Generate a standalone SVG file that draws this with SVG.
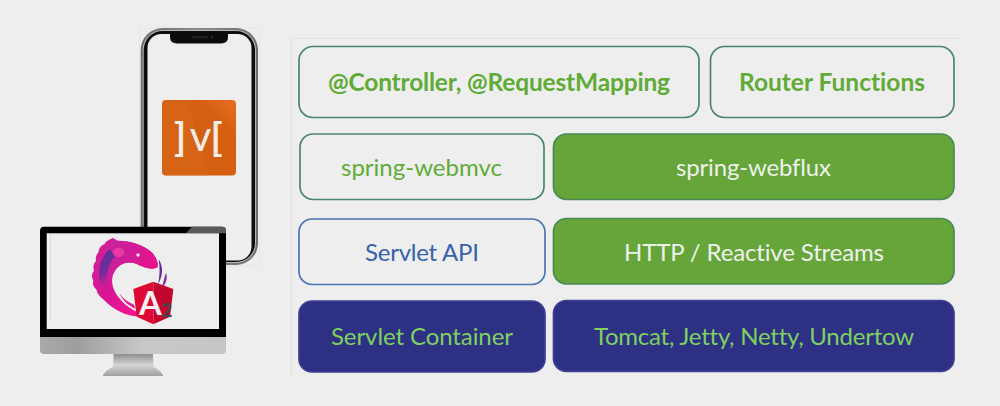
<svg xmlns="http://www.w3.org/2000/svg" width="1000" height="406" viewBox="0 0 1000 406">
<style>
.b{stroke-width:1.7}
.o{fill:#eeeeee;stroke:#4a8570}
.g{fill:#66a53a;stroke:#4a8a55}
.s{fill:#eeeeee;stroke:#4a76b4}
.n{fill:#2e3084;stroke:#3d3f92}
text{font-family:"Lato","Liberation Sans",sans-serif;text-anchor:middle;font-variant-ligatures:none}
.t{font-size:24px}
.h{font-size:24.500px;font-weight:700;fill:#60ab36}
.lg{fill:#60ab36}
.lw{fill:#eef2ea}
.lb{fill:#3762ab}
.ln{fill:#7ed15f}
.m{fill:#f2ece6}
</style>
<defs>
<linearGradient id="chin" x1="0" x2="1" y1="0" y2="0"><stop offset="0" stop-color="#a9a9ab"/><stop offset=".2" stop-color="#9e9ea0"/><stop offset=".55" stop-color="#c8c8ca"/><stop offset="1" stop-color="#c6c6c8"/></linearGradient>
<linearGradient id="stand" x1="0" x2="0" y1="0" y2="1"><stop offset="0" stop-color="#8f8f91"/><stop offset=".5" stop-color="#d4d4d4"/><stop offset="1" stop-color="#a0a0a0"/></linearGradient>
<linearGradient id="fish" gradientUnits="userSpaceOnUse" x1="225" y1="170" x2="340" y2="300"><stop offset="0" stop-color="#d21f96"/><stop offset=".5" stop-color="#d81695"/><stop offset="1" stop-color="#ee1590"/></linearGradient>
<linearGradient id="head" gradientUnits="userSpaceOnUse" x1="270" y1="110" x2="410" y2="170"><stop offset="0" stop-color="#c4249c"/><stop offset=".5" stop-color="#d51a95"/><stop offset="1" stop-color="#e8128c"/></linearGradient>
<linearGradient id="band" gradientUnits="userSpaceOnUse" x1="235" y1="130" x2="275" y2="230"><stop offset="0" stop-color="#5a2f98"/><stop offset=".6" stop-color="#7a2c9a"/><stop offset="1" stop-color="#d01c96" stop-opacity=".2"/></linearGradient>
<linearGradient id="org" x1="0" x2="1" y1="1" y2="0"><stop offset="0" stop-color="#d4600f"/><stop offset=".75" stop-color="#d65f12"/><stop offset="1" stop-color="#e86f1e"/></linearGradient>
<linearGradient id="rim" x1="0" x2="1" y1="0" y2="0"><stop offset="0" stop-color="#6b6b6b"/><stop offset=".5" stop-color="#8d8d8d"/><stop offset="1" stop-color="#6b6b6b"/></linearGradient>
</defs>
<rect width="1000" height="406" fill="#eeeeee"/>
<path d="M291.500 378V38.500H960" fill="none" stroke="#e3e3e3" stroke-width="1.200"/>

<g id="phone">
<rect x="139.500" y="28" width="120" height="238" fill="none" stroke="#e2e2e2" stroke-width=".6"/>
<rect x="140.700" y="28" width="117.300" height="237" rx="22" fill="url(#rim)"/>
<rect x="142.700" y="30" width="113.300" height="233" rx="20" fill="#b5b5b5"/>
<rect x="143.700" y="31" width="111.300" height="231" rx="19" fill="#0c0c0c"/>
<rect x="147.500" y="34" width="104" height="226.500" rx="14" fill="#eeeeee"/>
<path d="M170 34H228V37Q228 43.500 221 43.500H177Q170 43.500 170 37Z" fill="#0c0c0c"/>
<path d="M192 37H208" stroke="#333333" stroke-width="1"/>
<circle cx="212" cy="37" r="1.200" fill="#1c2c50"/>
<rect x="162" y="100" width="74" height="75.500" rx="4" fill="url(#org)"/>
<path d="M188 100L208 175.500H166Q162 175.500 162 171V104Q162 100 166 100Z" fill="#d96a1c" opacity=".45"/>
<text class="m" x="180" y="150.500" font-size="39" font-weight="700">]</text>
<text class="m" x="200.500" y="151" font-size="42">v</text>
<text class="m" x="216.500" y="150.500" font-size="39" font-weight="700">[</text>
</g>

<g id="monitor">
<path d="M103 376Q104 371 113 367L113.500 354H153L153.500 367Q162 371 163 376Z" fill="url(#stand)"/>
<path d="M40 336H226V350Q226 354 222 354H44Q40 354 40 350Z" fill="url(#chin)"/>
<path d="M44 226.700H222Q226 226.700 226 231V337H40V231Q40 226.700 44 226.700Z" fill="#000"/>
<path d="M186 233.300L192 226.700H222Q226 226.700 226 231V233.300Z" fill="#5a5a5a"/>
<rect x="46.700" y="233.300" width="172.300" height="95.700" fill="#eeeeee"/>
<path d="M50.500 234V321" stroke="#dddddd" stroke-width="1.200"/>
<g transform="translate(20 210) scale(.33333)">
<path d="M278 84C268 90 258 92 254 102C244 106 236 114 236 126C228 134 226 144 228 152C220 162 218 172 222 182C214 192 214 202 220 212C216 224 222 232 230 240C232 254 244 262 252 270C280 300 320 318 352 319L352 306C322 292 304 274 290 254C274 230 272 204 284 184C298 160 325 152 350 162C372 172 395 182 412 172C416 160 410 145 398 130C375 105 330 92 292 92Z" fill="url(#fish)"/>
<path d="M278 84L292 92C330 92 375 105 398 130C410 145 416 160 412 172C395 182 372 172 350 162C325 152 298 160 284 184C278 194 272 205 271 218C262 190 258 160 266 132C268 112 272 96 278 84Z" fill="url(#head)"/>
<path d="M270 118C245 138 230 175 240 225C248 235 254 232 264 238C256 205 262 165 285 140Z" fill="url(#band)"/>
<ellipse cx="296" cy="127" rx="17" ry="14" fill="#ea3aa2"/>
<circle cx="354" cy="135" r="5" fill="#f6e8f3"/>
<path d="M416 148C430 170 430 195 414 224C420 195 420 172 416 148Z" fill="#5f2d96"/>
<path d="M438 188C444 205 438 222 424 236C430 218 432 205 438 188Z" fill="#8a2b9c"/>
<path d="M298 250C306 262 322 276 342 284L346 296C326 288 308 272 298 250Z" fill="#dd1f96"/>
<path d="M400 215L460 237L450 320L400 343Z" fill="#c2062f"/>
<path d="M400 215L340 237L350 320L400 343Z" fill="#dc0a35"/>
<text x="391" y="314" font-size="98" font-weight="700" fill="#f6f0f0">A</text>
<text x="441" y="320" font-size="56" font-weight="700" fill="#444444">2</text>
</g>
</g>

<g id="connectors"></g>

<g id="controller"><rect class="b o" x="299" y="46.500" width="400" height="71" rx="14"/><text class="h" x="499" y="91" textLength="342">@Controller, @RequestMapping</text></g>
<g id="router"><rect class="b o" x="710.500" y="46.500" width="243.500" height="71" rx="14"/><text class="h" x="832" y="91" textLength="186">Router Functions</text></g>
<g id="webmvc"><rect class="b o" x="300" y="134" width="244" height="65.500" rx="13"/><text class="t lg" x="421.500" y="176" textLength="161">spring-webmvc</text></g>
<g id="webflux"><rect class="b g" x="553.500" y="134" width="400.500" height="65.500" rx="13"/><text class="t lw" x="753.500" y="176" textLength="155">spring-webflux</text></g>
<g id="servlet-api"><rect class="b s" x="299" y="219" width="246" height="65.500" rx="13"/><text class="t lb" x="422" y="261" textLength="114">Servlet API</text></g>
<g id="reactive-streams"><rect class="b g" x="553.500" y="218.500" width="400.500" height="65.500" rx="13"/><text class="t lw" x="754" y="261" textLength="260">HTTP / Reactive Streams</text></g>
<g id="servlet-container"><rect class="b n" x="299" y="301" width="246" height="71" rx="13"/><text class="t ln" x="422" y="345" textLength="182">Servlet Container</text></g>
<g id="servers"><rect class="b n" x="553.500" y="300.500" width="400.500" height="71" rx="13"/><text class="t ln" x="754" y="345" textLength="320">Tomcat, Jetty, Netty, Undertow</text></g>
</svg>
